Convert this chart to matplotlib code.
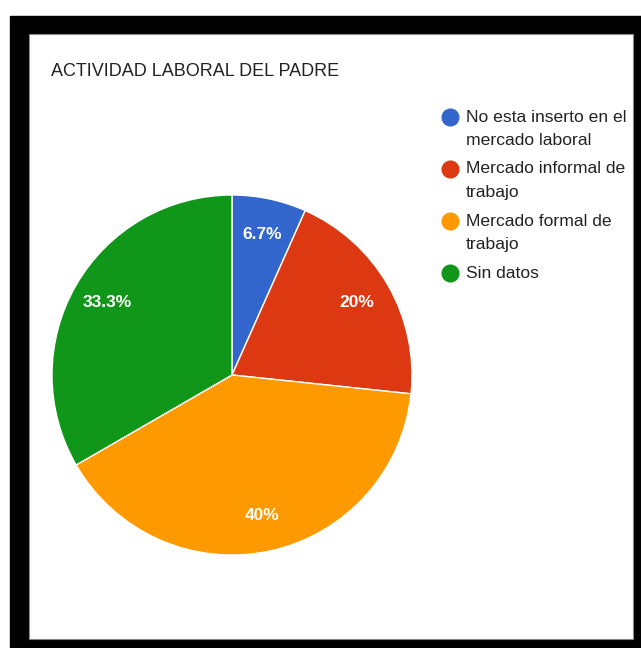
import matplotlib.pyplot as plt
from matplotlib.patches import Rectangle
from matplotlib.lines import Line2D

plt.rcParams['font.family'] = ['Liberation Sans', 'DejaVu Sans']

# data
title = "ACTIVIDAD LABORAL DEL PADRE"
categories = ["No esta inserto en el\nmercado laboral",
              "Mercado informal de\ntrabajo",
              "Mercado formal de\ntrabajo",
              "Sin datos"]
counts = [1, 3, 6, 5]
colors = ["#3366CC", "#DC3912", "#FF9900", "#109618"]

W, H = 641, 648
fig = plt.figure(figsize=(W / 100, H / 100), dpi=100)


def px(x, y):
    # pixel coords (top-left origin) -> figure fraction
    return x / W, 1 - y / H


# black frame around the white card
fig.patches.append(Rectangle(px(10, 648), (641 - 10) / W, (648 - 16) / H,
                             transform=fig.transFigure, color="black", zorder=0))
fig.patches.append(Rectangle(px(29, 639), (633 - 29) / W, (639 - 34) / H,
                             transform=fig.transFigure, facecolor="white",
                             edgecolor="#888888", lw=0.8, zorder=1))

# pie
cx, cy, r = 232, 375, 180
ax = fig.add_axes([(cx - r) / W, 1 - (cy + r) / H, 2 * r / W, 2 * r / H])
ax.set_zorder(5)
wedges, texts, autotexts = ax.pie(
    counts, colors=colors, startangle=90, counterclock=False,
    autopct=lambda p: f"{p:.1f}%".replace(".0%", "%"), pctdistance=0.8,
    wedgeprops=dict(edgecolor="white", linewidth=1),
    textprops=dict(color="white", fontsize=12.5, fontweight="bold"))
ax.set_xlim(-1, 1)
ax.set_ylim(-1, 1)
ax.set_aspect("auto")
ax.axis("off")

fig.text(*px(51, 71), title, fontsize=13, color="#222222", va="center",
         ha="left", zorder=5)

# legend
y = 117
for lab, col in zip(categories, colors):
    fig.add_artist(Line2D([px(450, y)[0]], [px(450, y)[1]], marker="o",
                          markersize=12, color=col, transform=fig.transFigure,
                          zorder=5))
    for line in lab.split("\n"):
        fig.text(*px(466, y), line, fontsize=12.6, color="#222222",
                 va="center", ha="left", zorder=5)
        y += 23.5
    y += 5

fig.savefig("out.png", dpi=100)
